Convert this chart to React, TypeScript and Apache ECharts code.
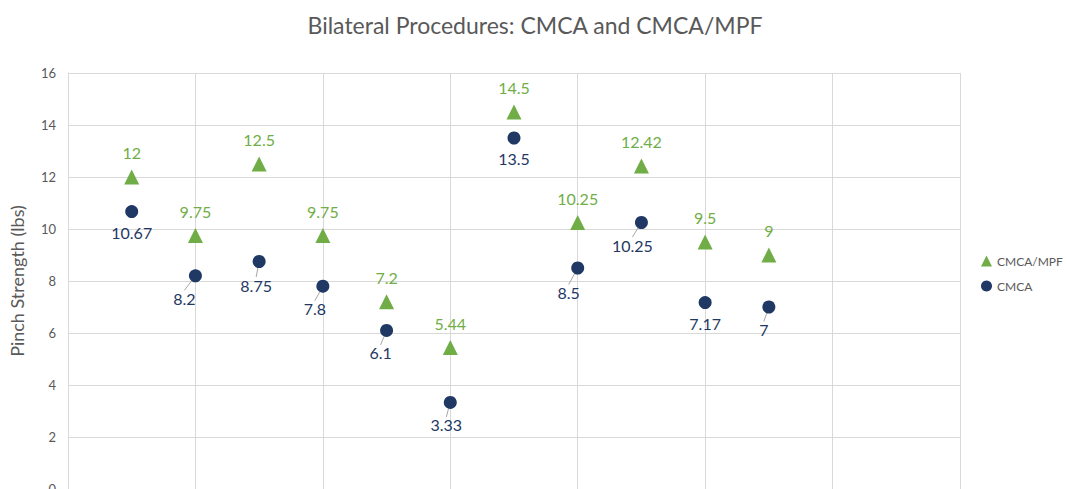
import React, { useEffect, useRef } from "react";
import * as echarts from "echarts";

const positions = [1, 2, 3, 4, 5, 6, 7, 8, 9, 10, 11];
const mpfValues = [12, 9.75, 12.5, 9.75, 7.2, 5.44, 14.5, 10.25, 12.42, 9.5, 9];
const cmcaValues = [10.67, 8.2, 8.75, 7.8, 6.1, 3.33, 13.5, 8.5, 10.25, 7.17, 7];
const yTicks = [0, 2, 4, 6, 8, 10, 12, 14, 16];

// label nudges for the CMCA labels (layout only)
const cmcaLabelDx = [0, -11, -3, -8, -6, -4, 0, -9, -9, 0, -5];
const cmcaLabelDy = [0, 2, 3, 2, 2, 2, 0, 4, 2, 0, 2];

const FONT = "Lato, 'Open Sans', sans-serif";
const GREEN = "#70AD47";
const NAVY = "#1F3864";

export default function App() {
  const ref = useRef<HTMLDivElement>(null);
  useEffect(() => {
    if (!ref.current) return;
    const chart = echarts.init(ref.current, null, { renderer: "svg" });
    chart.setOption({
      animation: false,
      textStyle: { fontFamily: FONT },
      title: {
        text: "Bilateral Procedures: CMCA and CMCA/MPF",
        left: 530,
        textAlign: "center",
        top: 8,
        textStyle: { fontFamily: FONT, fontSize: 23, fontWeight: "normal", color: "#595959" },
      },
      legend: {
        orient: "vertical",
        left: 976,
        top: 250,
        itemGap: 13,
        itemWidth: 11,
        itemHeight: 11,
        textStyle: { fontFamily: FONT, fontSize: 12, color: "#595959" },
        data: [
          { name: "CMCA/MPF", icon: "triangle" },
          { name: "CMCA", icon: "circle" },
        ],
      },
      grid: { left: 65, right: 107, top: 73, bottom: 51 },
      xAxis: {
        type: "value",
        min: 0,
        max: 14,
        interval: 2,
        axisLine: { show: true, lineStyle: { color: "#d9d9d9" } },
        axisTick: { show: false },
        axisLabel: { show: false },
        splitLine: { show: true, lineStyle: { color: "#d9d9d9", width: 1 } },
      },
      yAxis: {
        type: "value",
        min: yTicks[0],
        max: yTicks[yTicks.length - 1],
        interval: 2,
        name: "Pinch Strength (lbs)",
        nameLocation: "middle",
        nameGap: 42,
        nameTextStyle: { fontFamily: FONT, fontSize: 18, color: "#595959" },
        axisLine: { show: true, lineStyle: { color: "#d9d9d9" } },
        axisTick: { show: false },
        axisLabel: { color: "#595959", fontSize: 13, margin: 12 },
        splitLine: { show: true, lineStyle: { color: "#d9d9d9", width: 1 } },
      },
      series: [
        {
          name: "CMCA/MPF",
          type: "scatter",
          symbol: "triangle",
          symbolSize: 15,
          itemStyle: { color: GREEN, opacity: 1 },
          label: {
            show: true,
            position: "top",
            distance: 9,
            color: GREEN,
            fontSize: 16,
            fontFamily: FONT,
            formatter: (p: any) => String(p.value[1]),
          },
          data: positions.map((x, i) => [x, mpfValues[i]]),
        },
        {
          name: "CMCA",
          type: "scatter",
          symbol: "circle",
          symbolSize: 13,
          itemStyle: { color: NAVY, opacity: 1 },
          label: {
            show: true,
            position: "bottom",
            distance: 6,
            color: NAVY,
            fontSize: 16,
            fontFamily: FONT,
            formatter: (p: any) => String(p.value[1]),
          },
          labelLine: { show: true, lineStyle: { color: "#a6a6a6", width: 1 } },
          labelLayout: (params: any) => ({
            dx: cmcaLabelDx[params.dataIndex],
            dy: cmcaLabelDy[params.dataIndex],
          }),
          data: positions.map((x, i) => ({
            value: [x, cmcaValues[i]],
            labelLine: { show: cmcaLabelDx[i] !== 0 },
          })),
        },
      ],
    });
    return () => chart.dispose();
  }, []);
  return (
    <div
      ref={ref}
      style={{ position: "fixed", left: 0, top: 0, width: 1067, height: 540, background: "#fff" }}
    />
  );
}
